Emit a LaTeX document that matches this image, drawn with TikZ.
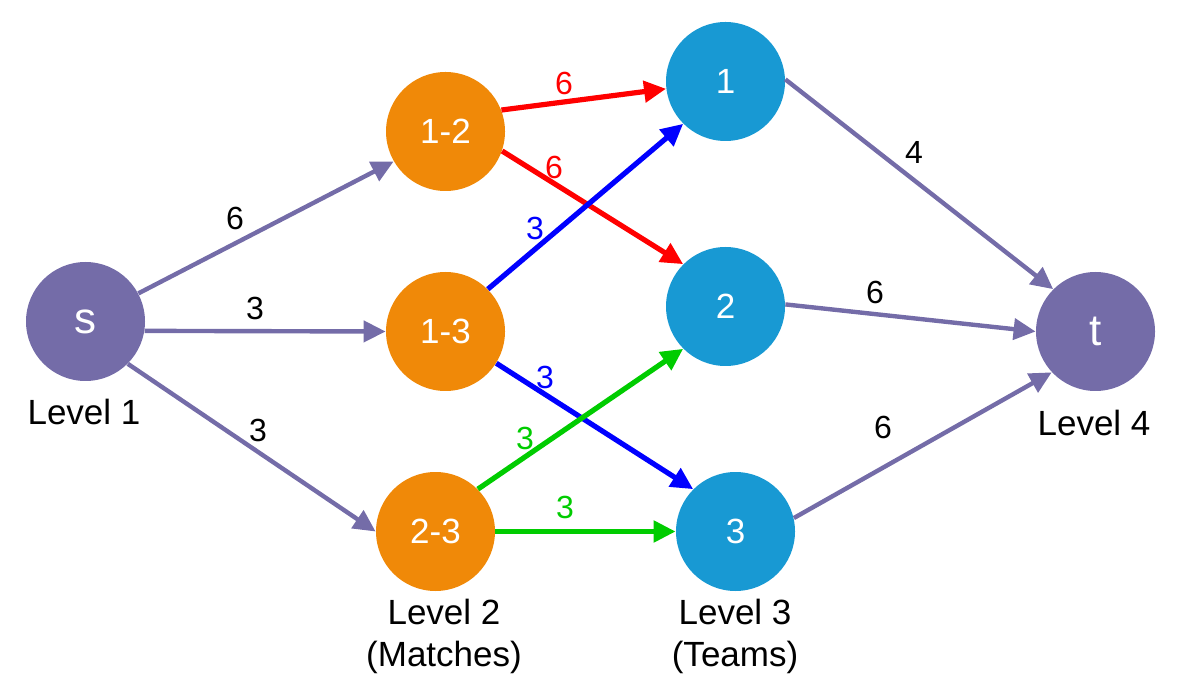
\documentclass[tikz,border=0pt]{standalone}
\usepackage{fontspec}
\setmainfont{Liberation Sans}
\usetikzlibrary{arrows.meta}
\definecolor{pur}{RGB}{116,108,168}
\definecolor{org}{RGB}{240,137,8}
\definecolor{cy}{RGB}{24,153,211}
\definecolor{rd}{RGB}{255,0,0}
\definecolor{bl}{RGB}{0,0,255}
\definecolor{gr}{RGB}{0,204,0}
\tikzset{
  vnode/.style={circle, draw=none, minimum size=59.5pt, inner sep=0pt, text=white, font=\fontsize{17.5}{20}\selectfont},
  pnode/.style={vnode, fill=pur, font=\fontsize{22}{26}\selectfont},
  onode/.style={vnode, fill=org},
  cnode/.style={vnode, fill=cy},
  edg/.style={line width=2.6pt, -{Triangle[length=11pt,width=10.5pt]}},
  pedge/.style={edg, draw=pur, line width=2.2pt},
  wlab/.style={inner sep=0pt, font=\fontsize{16}{19}\selectfont},
  lvl/.style={inner sep=0pt, align=center, font=\fontsize{17.5}{21}\selectfont}
}
\begin{document}
\begin{tikzpicture}[x=0.5pt,y=-0.5pt]
\useasboundingbox (0,0) rectangle (1181,699);
\node[pnode] (s) at (85.5,321.5) {s};
\node[onode] (n12) at (445.5,131.5) {1-2};
\node[onode] (n13) at (445.5,331.5) {1-3};
\node[onode] (n23) at (435.5,531.5) {2-3};
\node[cnode] (n1) at (725.5,81.5) {1};
\node[cnode] (n2) at (725.5,306.5) {2};
\node[cnode] (n3) at (735.5,531.5) {3};
\node[pnode] (t) at (1095.5,331.5) {t};

\node[lvl] (l1) at (84,412) {Level 1};
\node[lvl] (l2) at (444,636) {Level 2\\(Matches)};
\node[lvl] (l3) at (735,636) {Level 3\\(Teams)};
\node[lvl] (l4) at (1094,423) {Level 4};

\draw[pedge] (s.28) -- (n12.210);
\draw[pedge] (s.-9) -- (n13.west);
\draw[pedge] (s.-45) -- (n23.180);
\draw[edg, draw=rd, fill=rd] (n12.21) -- (n1.187);
\draw[edg, draw=rd, fill=rd] (n12.-19) -- (n2.135);
\draw[edg, draw=bl, fill=bl] (n13.45) -- (n1.225);
\draw[edg, draw=bl, fill=bl] (n13.-32) -- (n3.135);
\draw[edg, draw=gr, fill=gr] (n23.45) -- (n2.225);
\draw[edg, draw=gr, fill=gr] (n23.east) -- (n3.west);
\draw[pedge] (n1.2) -- (t.135);
\draw[pedge] (n2.2) -- (t.west);
\draw[pedge] (n3.13) -- (t.223);

\node[wlab] (w1) at (235,218) {6};
\node[wlab] (w2) at (255,308) {3};
\node[wlab] (w3) at (258,430) {3};
\node[wlab, text=rd] (w4) at (564,83) {6};
\node[wlab, text=rd] (w5) at (554,167) {6};
\node[wlab, text=bl] (w6) at (535,228) {3};
\node[wlab, text=bl] (w7) at (545,377) {3};
\node[wlab, text=gr] (w8) at (525,438) {3};
\node[wlab, text=gr] (w9) at (565,507) {3};
\node[wlab] (w10) at (914,152) {4};
\node[wlab] (w11) at (875,292) {6};
\node[wlab] (w12) at (883,427) {6};
\end{tikzpicture}
\end{document}
